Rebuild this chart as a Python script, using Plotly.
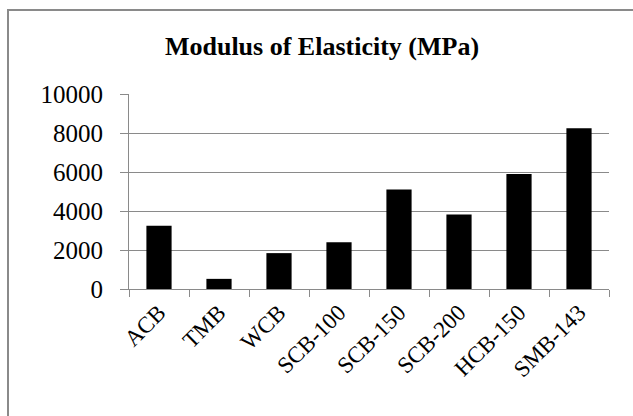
import plotly.graph_objects as go

categories = ["ACB", "TMB", "WCB", "SCB-100", "SCB-150", "SCB-200", "HCB-150", "SMB-143"]
values = [3240, 520, 1840, 2400, 5100, 3820, 5900, 8250]
y_ticks = [0, 2000, 4000, 6000, 8000, 10000]
y_ticktext = [str(v) for v in y_ticks]

W, H = 633, 416
L, R, T, B = 129, 24, 94, 127
pw, ph = W - L - R, H - T - B

fig = go.Figure(go.Bar(x=categories, y=values, marker=dict(color="black", line=dict(width=0))))

font_family = "Liberation Serif"

fig.update_layout(
    width=W, height=H,
    margin=dict(l=L, r=R, t=T, b=B),
    paper_bgcolor="white", plot_bgcolor="white",
    bargap=0.58,
    showlegend=False,
    font=dict(family=font_family, color="black"),
    title=dict(text="Modulus of Elasticity (MPa)",
               font=dict(size=26, family=font_family, color="black", weight="bold"),
               x=322 / W, xanchor="center", y=1 - 46 / H, yanchor="middle"),
    xaxis=dict(showline=True, linecolor="#8a8a8a", linewidth=1, ticks="outside", tickson="boundaries",
               ticklen=7, tickcolor="#8a8a8a", tickangle=-45, tickfont=dict(size=23, family=font_family),
               showgrid=False),
    yaxis=dict(range=[0, 10000], tickvals=y_ticks, ticktext=y_ticktext, showline=True,
               linecolor="#8a8a8a", linewidth=1,
               ticks="outside", ticklen=8, tickcolor="#8a8a8a", showgrid=True, gridcolor="#8a8a8a",
               gridwidth=1, tickfont=dict(size=25, family=font_family), zeroline=False,
               ticklabelstandoff=12),
)

# outer chart border (extends beyond the visible crop on right and bottom)
fig.add_shape(type="rect", xref="paper", yref="paper",
              x0=(8 - L) / pw, x1=(W + 20 - L) / pw,
              y0=-(B + 20) / ph, y1=(H - 10 - B) / ph,
              line=dict(color="#8a8a8a", width=2), fillcolor="rgba(0,0,0,0)", layer="below")

fig.write_html("out.html")
